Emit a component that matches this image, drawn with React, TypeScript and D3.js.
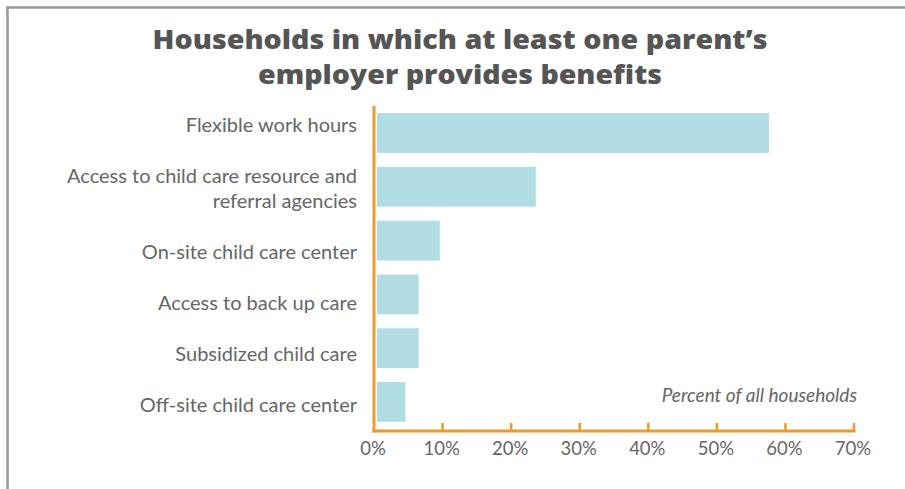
import React from "react";
import * as d3 from "d3";

const categories = [
  ["Flexible work hours"],
  ["Access to child care resource and", "referral agencies"],
  ["On-site child care center"],
  ["Access to back up care"],
  ["Subsidized child care"],
  ["Off-site child care center"],
];
const values = [57.6, 23.6, 9.6, 6.5, 6.5, 4.6];
const ticks = [0, 10, 20, 30, 40, 50, 60, 70];
const titleLines = ["Households in which at least one parent\u2019s", "employer provides benefits"];
const axisNote = "Percent of all households";

const W = 905;
const H = 489;
const FONT = "Lato, 'Open Sans', sans-serif";
const TITLE_FONT = "'Open Sans', Lato, sans-serif";
const GRAY = "#666666";
const ORANGE = "#f0982a";
const BAR = "#b0dde3";

export default function App() {
  const x = d3.scaleLinear().domain([0, 70]).range([374, 854]);
  const y = d3
    .scaleBand()
    .domain(categories.map((_, i) => String(i)))
    .range([104, 431])
    .paddingInner(0.26)
    .paddingOuter(0.17);
  const axisY = 431;
  const axisTop = 106;

  // label text flow: baseline of first line, gap between items, line height
  const labelStart = 132;
  const labelGap = 51;
  const lineH = 25;
  let extra = 0;
  const labelPos = categories.map((lines, i) => {
    const base = labelStart + i * labelGap + extra;
    extra += (lines.length - 1) * lineH;
    return base;
  });

  const titleWidths = [615, 404];

  return (
    <svg
      width={W}
      height={H}
      style={{ position: "absolute", left: 0, top: 0, background: "#fff" }}
      fontFamily={FONT}
    >
      <line x1={7.5} y1={7} x2={7.5} y2={H} stroke="#9a9a9a" strokeWidth={2.5} />
      <line x1={6} y1={7.5} x2={W} y2={7.5} stroke="#9a9a9a" strokeWidth={2.5} />

      {titleLines.map((t, i) => (
        <text
          key={i}
          x={460}
          y={49 + i * 35}
          textAnchor="middle"
          fontSize={27}
          fontWeight={800}
          fontFamily={TITLE_FONT}
          fill="#555555"
          textLength={titleWidths[i]}
          lengthAdjust="spacingAndGlyphs"
        >
          {t}
        </text>
      ))}

      {values.map((v, i) => (
        <rect
          key={i}
          x={x(0) + 3}
          y={y(String(i))}
          width={x(v) - x(0) - 3}
          height={y.bandwidth()}
          fill={BAR}
        />
      ))}

      {categories.map((lines, i) =>
        lines.map((l, j) => (
          <text
            key={i + "-" + j}
            x={357}
            y={labelPos[i] + j * lineH}
            textAnchor="end"
            fontSize={20}
            fill={GRAY}
          >
            {l}
          </text>
        ))
      )}

      <line x1={x(0)} y1={axisTop} x2={x(0)} y2={axisY + 1.5} stroke={ORANGE} strokeWidth={3} />
      <line x1={x(0) - 1.5} y1={axisY} x2={x(70) + 1.5} y2={axisY} stroke={ORANGE} strokeWidth={3} />
      {ticks.map((t) => (
        <g key={t}>
          {t > 0 && (
            <line x1={x(t)} y1={axisY} x2={x(t)} y2={axisY - 8} stroke={ORANGE} strokeWidth={2.5} />
          )}
          <text x={x(t) - 1} y={455} textAnchor="middle" fontSize={18.5} fill={GRAY}>
            {t + "%"}
          </text>
        </g>
      ))}

      <text x={857} y={402} textAnchor="end" fontSize={19} fontStyle="italic" fill={GRAY}>
        {axisNote}
      </text>
    </svg>
  );
}
